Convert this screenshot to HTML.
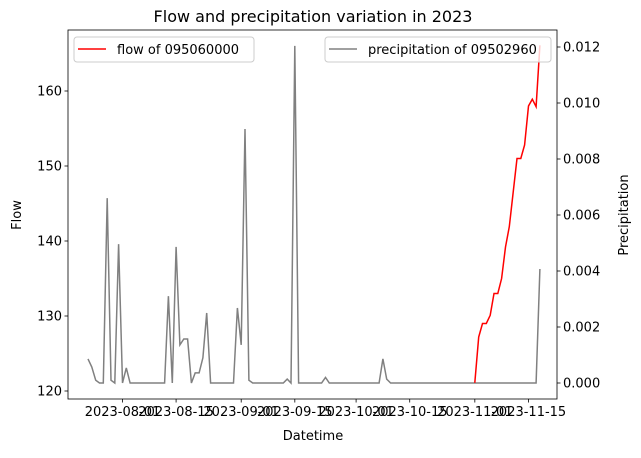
<!DOCTYPE html>
<html><head><meta charset="utf-8"><style>body{margin:0;background:#fff}svg{font-family:"DejaVu Sans","Liberation Sans",sans-serif}</style></head>
<body>
<svg id="c" width="641" height="453"></svg>
<script>
const precipValues=[0.00086,0.00057,0.0001,0,0,0.0066,0.0001,0,0.00496,0,0.00054,0,0,0,0,0,0,0,0,0,0,0.0031,0,0.00486,0.00136,0.00157,0.00157,0,0.00036,0.00036,0.0009,0.0025,0,0,0,0,0,0,0,0.00268,0.00136,0.00907,0.0001,0,0,0,0,0,0,0,0,0,0.00014,0,0.01204,0,0,0,0,0,0,0,0.0002,0,0,0,0,0,0,0,0,0,0,0,0,0,0,0.00086,0.00014,0,0,0,0,0,0,0,0,0,0,0,0,0,0,0,0,0,0,0,0,0,0,0,0,0,0,0,0,0,0,0,0,0,0,0,0,0,0,0,0.00407];
const flowStartDay=101;
const flowValues=[121.1,127.2,129.0,129.0,130.1,133.0,133.0,135.0,139.2,141.9,146.4,151.0,151.0,152.8,158.0,158.9,157.9,166.1];
const xTickDays=[9,23,40,54,70,84,101,115];
const xTickLabels=["2023-08-01","2023-08-15","2023-09-01","2023-09-15","2023-10-01","2023-10-15","2023-11-01","2023-11-15"];
const leftTicks=[120,130,140,150,160];
const rightTicks=[0,0.002,0.004,0.006,0.008,0.010,0.012];
const L=68,R=557,T=30,B=399;
const x=d=>88+d*3.83;
const yL=v=>391-(v-120)*7.5;
const yR=v=>383-v*28000;
const svg=document.getElementById('c');const NS='http://www.w3.org/2000/svg';
function el(t,a,txt){const e=document.createElementNS(NS,t);for(const k in a)e.setAttribute(k,a[k]);if(txt!==undefined)e.textContent=txt;svg.appendChild(e);return e;}
let p=precipValues.map((v,i)=>x(i).toFixed(1)+','+yR(v).toFixed(1)).join(' ');
let e=el('polyline',{points:p,fill:'none',stroke:'#808080','stroke-width':1.5});

p=flowValues.map((v,i)=>x(flowStartDay+i).toFixed(1)+','+yL(v).toFixed(1)).join(' ');
e=el('polyline',{points:p,fill:'none',stroke:'#ff0000','stroke-width':1.5});

e=el('rect',{x:L,y:T,width:R-L,height:B-T,fill:'none',stroke:'#000','stroke-width':0.8});

xTickDays.forEach((d,i)=>{el('line',{x1:x(d),x2:x(d),y1:B,y2:B+3.5,stroke:'#000','stroke-width':0.8});
e=el('text',{x:x(d),y:B+17,'font-size':13,'text-anchor':'middle'},xTickLabels[i]);
});
leftTicks.forEach(v=>{el('line',{x1:L-3.5,x2:L,y1:yL(v),y2:yL(v),stroke:'#000','stroke-width':0.8});
e=el('text',{x:L-6,y:yL(v)+4.5,'font-size':13,'text-anchor':'end'},String(v));
});
rightTicks.forEach(v=>{el('line',{x1:R,x2:R+3.5,y1:yR(v),y2:yR(v),stroke:'#000','stroke-width':0.8});
e=el('text',{x:R+6,y:yR(v)+4.5,'font-size':13},v.toFixed(3));
});
e=el('text',{x:313,y:22,'font-size':16,'text-anchor':'middle'},'Flow and precipitation variation in 2023');

e=el('text',{x:313,y:440,'font-size':13,'text-anchor':'middle'},'Datetime');

e=el('text',{x:21,y:215,'font-size':13,'text-anchor':'middle',transform:'rotate(-90 21 215)'},'Flow');

e=el('text',{x:628,y:215,'font-size':13,'text-anchor':'middle',transform:'rotate(-90 628 215)'},'Precipitation');

e=el('rect',{x:74,y:37,width:180,height:25,rx:3,fill:'#fff','fill-opacity':0.8,stroke:'#ccc'});

el('line',{x1:78,x2:106,y1:49,y2:49,stroke:'#ff0000','stroke-width':1.5});
e=el('text',{x:117,y:54,'font-size':13},'flow of 095060000');

e=el('rect',{x:325,y:37,width:226,height:25,rx:3,fill:'#fff','fill-opacity':0.8,stroke:'#ccc'});

el('line',{x1:329,x2:357,y1:49,y2:49,stroke:'#808080','stroke-width':1.5});
e=el('text',{x:368,y:54,'font-size':13},'precipitation of 09502960');

</script>
</body></html>
